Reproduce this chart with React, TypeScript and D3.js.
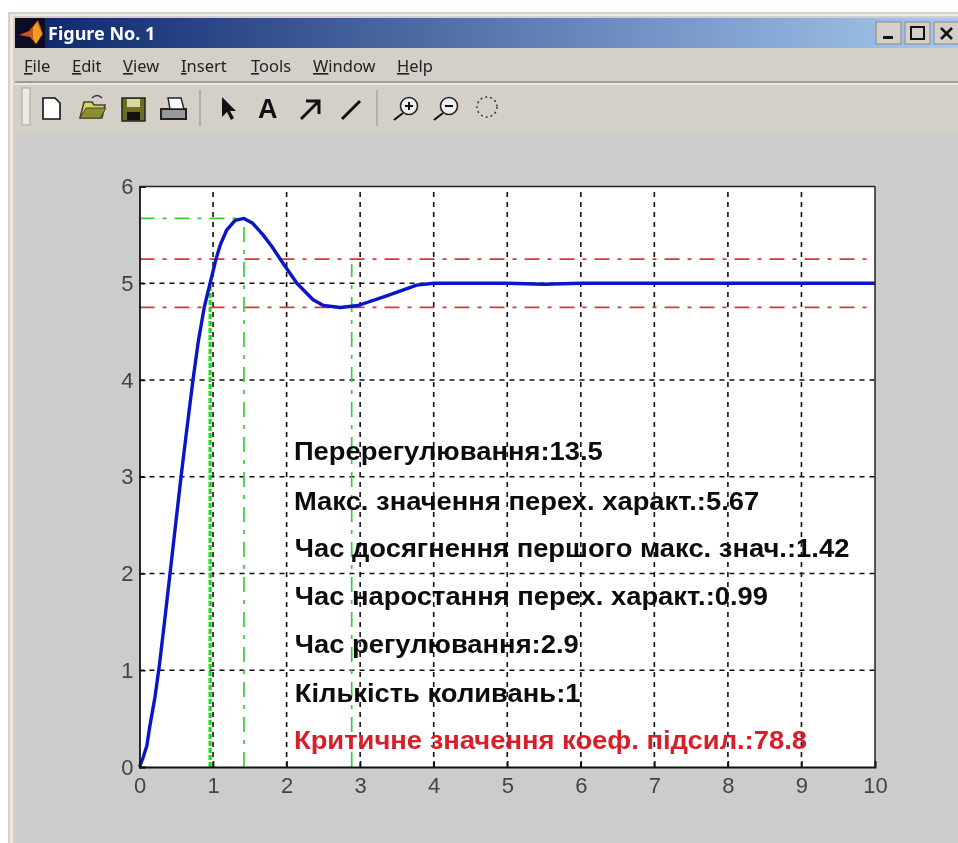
import * as d3 from "d3";
import { useEffect, useRef } from "react";

const W = 958;
const H = 843;

const xTicks = [0, 1, 2, 3, 4, 5, 6, 7, 8, 9, 10];
const yTicks = [0, 1, 2, 3, 4, 5, 6];

const curveT = [0, 0.05, 0.1, 0.14, 0.21, 0.27, 0.34, 0.415, 0.49, 0.565, 0.645, 0.727, 0.8, 0.88, 0.96, 1.04, 1.1, 1.185, 1.3, 1.42, 1.54, 1.68, 1.8, 1.93, 2.14, 2.36, 2.5, 2.73, 2.97, 3.36, 3.77, 4, 5, 5.5, 6, 10];
const curveY = [0, 0.1, 0.22, 0.42, 0.72, 1.05, 1.5, 2, 2.5, 3, 3.5, 4, 4.4, 4.75, 5, 5.25, 5.4, 5.55, 5.65, 5.67, 5.62, 5.5, 5.38, 5.23, 5, 4.83, 4.77, 4.75, 4.77, 4.87, 4.98, 5, 5, 4.99, 5, 5];

const bandLevels = [5.25, 4.75];
const peakT = 1.42;
const peakY = 5.67;
const riseT = 0.96;
const riseY = 5;
const settleT = 2.885;
const settleY = 5.2;

const notes = [
  "Перерегулювання:13.5",
  "Макс. значення перех. характ.:5.67",
  "Час досягнення першого макс. знач.:1.42",
  "Час наростання перех. характ.:0.99",
  "Час регулювання:2.9",
  "Кількість коливань:1",
  "Критичне значення коеф. підсил.:78.8",
];
const noteY = [3.17, 2.66, 2.17, 1.67, 1.18, 0.67, 0.19];
const noteX = [2.1, 2.1, 2.11, 2.11, 2.11, 2.11, 2.1];

const menus = ["File", "Edit", "View", "Insert", "Tools", "Window", "Help"];
const menuX = [24, 72, 123, 181, 251, 313, 397];

function Menu() {
  return (
    <g fontFamily="'Noto Sans', sans-serif" fontSize={16.5} fill="#222">
      {menus.map((m, i) => (
        <text key={m} x={menuX[i]} y={72}>
          <tspan textDecoration="underline">{m[0]}</tspan>
          {m.slice(1)}
        </text>
      ))}
    </g>
  );
}

function Toolbar() {
  return (
    <g>
      <rect x={22} y={88} width={8} height={37} fill="#ece9e2" stroke="#aaa69c" />
      <path d="M43 98h12l5 5v16H43z" fill="#fff" stroke="#111" strokeWidth={1.6} />
      <path d="M80 118l4-16h8l2 3h11l-3 13z" fill="#d8d860" stroke="#443" strokeWidth={1.6} />
      <path d="M80 118l6-10h20l-6 10z" fill="#8f8f30" stroke="#443" />
      <path d="M92 98q5-5 10 0" fill="none" stroke="#333" strokeWidth={1.5} />
      <rect x={122} y={98} width={23} height={23} fill="#6d6d20" stroke="#222" strokeWidth={1.5} />
      <rect x={127} y={99} width={13} height={8} fill="#d8d8a0" />
      <rect x={127} y={112} width={13} height={8} fill="#111" />
      <path d="M161 109h25v10h-25z" fill="#999" stroke="#222" strokeWidth={2} />
      <path d="M168 98h13l3 11h-14z" fill="#fff" stroke="#222" strokeWidth={1.4} />
      <line x1={200} y1={90} x2={200} y2={126} stroke="#a8a49b" strokeWidth={1.5} />
      <path d="M222 97v20l5-5 4 8 3-2-4-7h6z" fill="#111" />
      <text x={258} y={118} fontFamily="'Liberation Sans'" fontWeight="bold" fontSize={27} fill="#111">A</text>
      <path d="M301 119l17-17M306 101h13v13" fill="none" stroke="#111" strokeWidth={3} />
      <line x1={342} y1={119} x2={360} y2={101} stroke="#111" strokeWidth={3} />
      <line x1={377} y1={90} x2={377} y2={126} stroke="#a8a49b" strokeWidth={1.5} />
      <circle cx={409} cy={106} r={8.5} fill="#eee" stroke="#222" strokeWidth={1.6} />
      <path d="M403 113l-9 7M405 106h8M409 102v8" stroke="#111" strokeWidth={2} fill="none" />
      <circle cx={449} cy={106} r={8.5} fill="#eee" stroke="#222" strokeWidth={1.6} />
      <path d="M443 113l-9 7M445 106h8" stroke="#111" strokeWidth={2} fill="none" />
      <circle cx={487} cy={107} r={10} fill="none" stroke="#333" strokeWidth={1.5} strokeDasharray="2 3" />
    </g>
  );
}

function Plot() {
  const ref = useRef<SVGGElement | null>(null);

  useEffect(() => {
    if (!ref.current) return;
    const g = d3.select(ref.current);
    g.selectAll("*").remove();

    const x = d3.scaleLinear().domain([0, 10]).range([139.5, 875]);
    const y = d3.scaleLinear().domain([0, 6]).range([767, 186.5]);

    g.append("rect")
      .attr("x", x(0))
      .attr("y", y(6))
      .attr("width", x(10) - x(0))
      .attr("height", y(0) - y(6))
      .attr("fill", "#fff");

    // grid
    g.selectAll("line.gx")
      .data(xTicks.slice(1, -1))
      .enter()
      .append("line")
      .attr("x1", d => x(d))
      .attr("x2", d => x(d))
      .attr("y1", y(0))
      .attr("y2", y(6))
      .attr("stroke", "#111")
      .attr("stroke-width", 1.6)
      .attr("stroke-dasharray", "5 5");
    g.selectAll("line.gy")
      .data(yTicks.slice(1, -1))
      .enter()
      .append("line")
      .attr("x1", x(0))
      .attr("x2", x(10))
      .attr("y1", d => y(d))
      .attr("y2", d => y(d))
      .attr("stroke", "#111")
      .attr("stroke-width", 1.6)
      .attr("stroke-dasharray", "5 5");

    // red band
    g.selectAll("line.band")
      .data(bandLevels)
      .enter()
      .append("line")
      .attr("x1", x(0))
      .attr("x2", x(10))
      .attr("y1", d => y(d))
      .attr("y2", d => y(d))
      .attr("stroke", "#d9363a")
      .attr("stroke-width", 1.7)
      .attr("stroke-dasharray", "15 8 4 8");

    // green guides
    const green = "#35d03a";
    const dashDot = "15 8 4 8";
    g.append("line")
      .attr("x1", x(riseT)).attr("x2", x(riseT))
      .attr("y1", y(0)).attr("y2", y(riseY))
      .attr("stroke", "#14e014").attr("stroke-width", 3.2)
      .attr("stroke-dasharray", "5 2");
    [[peakT, peakY], [settleT, settleY]].forEach(([t, v]) => {
      g.append("line")
        .attr("x1", x(t)).attr("x2", x(t))
        .attr("y1", y(0)).attr("y2", y(v))
        .attr("stroke", green).attr("stroke-width", 1.7)
        .attr("stroke-dasharray", dashDot);
    });
    g.append("line")
      .attr("x1", x(0)).attr("x2", x(peakT))
      .attr("y1", y(peakY)).attr("y2", y(peakY))
      .attr("stroke", green).attr("stroke-width", 1.7)
      .attr("stroke-dasharray", dashDot);

    // response curve
    const line = d3.line<number>()
      .x(d => x(curveT[d]))
      .y(d => y(curveY[d]))
      .curve(d3.curveLinear);
    g.append("path")
      .attr("d", line(d3.range(curveT.length)))
      .attr("fill", "none")
      .attr("stroke", "#0a14c8")
      .attr("stroke-width", 3.4)
      .attr("stroke-linejoin", "round");

    // annotations, stretched sideways like the hinted Arial of the screenshot
    g.selectAll("text.note")
      .data(notes)
      .enter()
      .append("text")
      .attr("transform", (_, i) => `translate(${x(noteX[i])},${y(noteY[i])}) scale(1.095,1)`)
      .attr("font-family", "'Liberation Sans', sans-serif")
      .attr("font-weight", "bold")
      .attr("font-size", 25)
      .attr("fill", (_, i) => (i === notes.length - 1 ? "#d81e28" : "#0c0c0c"))
      .text(d => d);

    // axes
    const xAxis = g.append("g")
      .attr("transform", `translate(0,${y(0)})`)
      .call(d3.axisBottom(x).tickValues(xTicks).tickFormat(d3.format("d")).tickSize(-6).tickPadding(10));
    const yAxis = g.append("g")
      .attr("transform", `translate(${x(0)},0)`)
      .call(d3.axisLeft(y).tickValues(yTicks).tickFormat(d3.format("d")).tickSize(-6).tickPadding(6));
    g.append("line")
      .attr("x1", x(0)).attr("x2", x(10))
      .attr("y1", y(6)).attr("y2", y(6))
      .attr("stroke", "#222").attr("stroke-width", 1.5);
    g.append("line")
      .attr("x1", x(10)).attr("x2", x(10))
      .attr("y1", y(0)).attr("y2", y(6))
      .attr("stroke", "#222").attr("stroke-width", 1.5);
    [xAxis, yAxis].forEach(a => {
      a.selectAll("path").attr("stroke", "#111").attr("stroke-width", 1.8);
      a.selectAll("line").attr("stroke", "#111").attr("stroke-width", 1.5);
      a.selectAll("text")
        .attr("font-family", "'Liberation Sans', sans-serif")
        .attr("font-size", 22)
        .attr("fill", "#444");
    });
  }, []);

  return <g ref={ref} />;
}

export default function App() {
  return (
    <svg
      width={W}
      height={H}
      style={{ position: "absolute", left: 0, top: 0, display: "block", filter: "blur(0.45px)" }}
    >
      <defs>
        <linearGradient id="titleGrad" x1="0" x2="1" y1="0" y2="0">
          <stop offset="0" stopColor="#0a246a" />
          <stop offset="1" stopColor="#a6caf0" />
        </linearGradient>
      </defs>
      <rect width={W} height={H} fill="#fff" />
      <rect x={8} y={12} width={W - 8} height={H - 12} fill="#d4d0c8" />
      <rect x={10} y={14} width={W - 10} height={H - 14} fill="#ece9e0" />
      <rect x={13} y={16} width={W - 13} height={H - 16} fill="#d4d0c8" />
      <rect x={15} y={18} width={W - 15} height={30} fill="url(#titleGrad)" />
      <rect x={15} y={18} width={30} height={30} fill="#0c0c24" />
      <path d="M19 35l10-4 9-11 5 14-7 10-6-7z" fill="#c8571c" />
      <path d="M33 28l4-6 5 12-6 10-3-6z" fill="#f0a020" />
      <text x={48} y={40} fontFamily="'Noto Sans', sans-serif" fontWeight="bold" fontSize={18} fill="#fff">
        Figure No. 1
      </text>
      <g>
        {[876, 905, 934].map(bx => (
          <rect key={bx} x={bx} y={22} width={25} height={22} fill="#d4d0c8" stroke="#8a8780" />
        ))}
        <rect x={883} y={36} width={10} height={3} fill="#111" />
        <rect x={911} y={27} width={13} height={12} fill="none" stroke="#111" strokeWidth={2} />
        <path d="M941 28l11 11M952 28l-11 11" stroke="#111" strokeWidth={2.5} />
      </g>
      <Menu />
      <line x1={15} x2={W} y1={82} y2={82} stroke="#8e8b83" strokeWidth={1.5} />
      <line x1={15} x2={W} y1={84} y2={84} stroke="#f2f0ea" strokeWidth={1.5} />
      <Toolbar />
      <rect x={16} y={134} width={W - 16} height={H - 134} fill="#cccccc" />
      <Plot />
    </svg>
  );
}
